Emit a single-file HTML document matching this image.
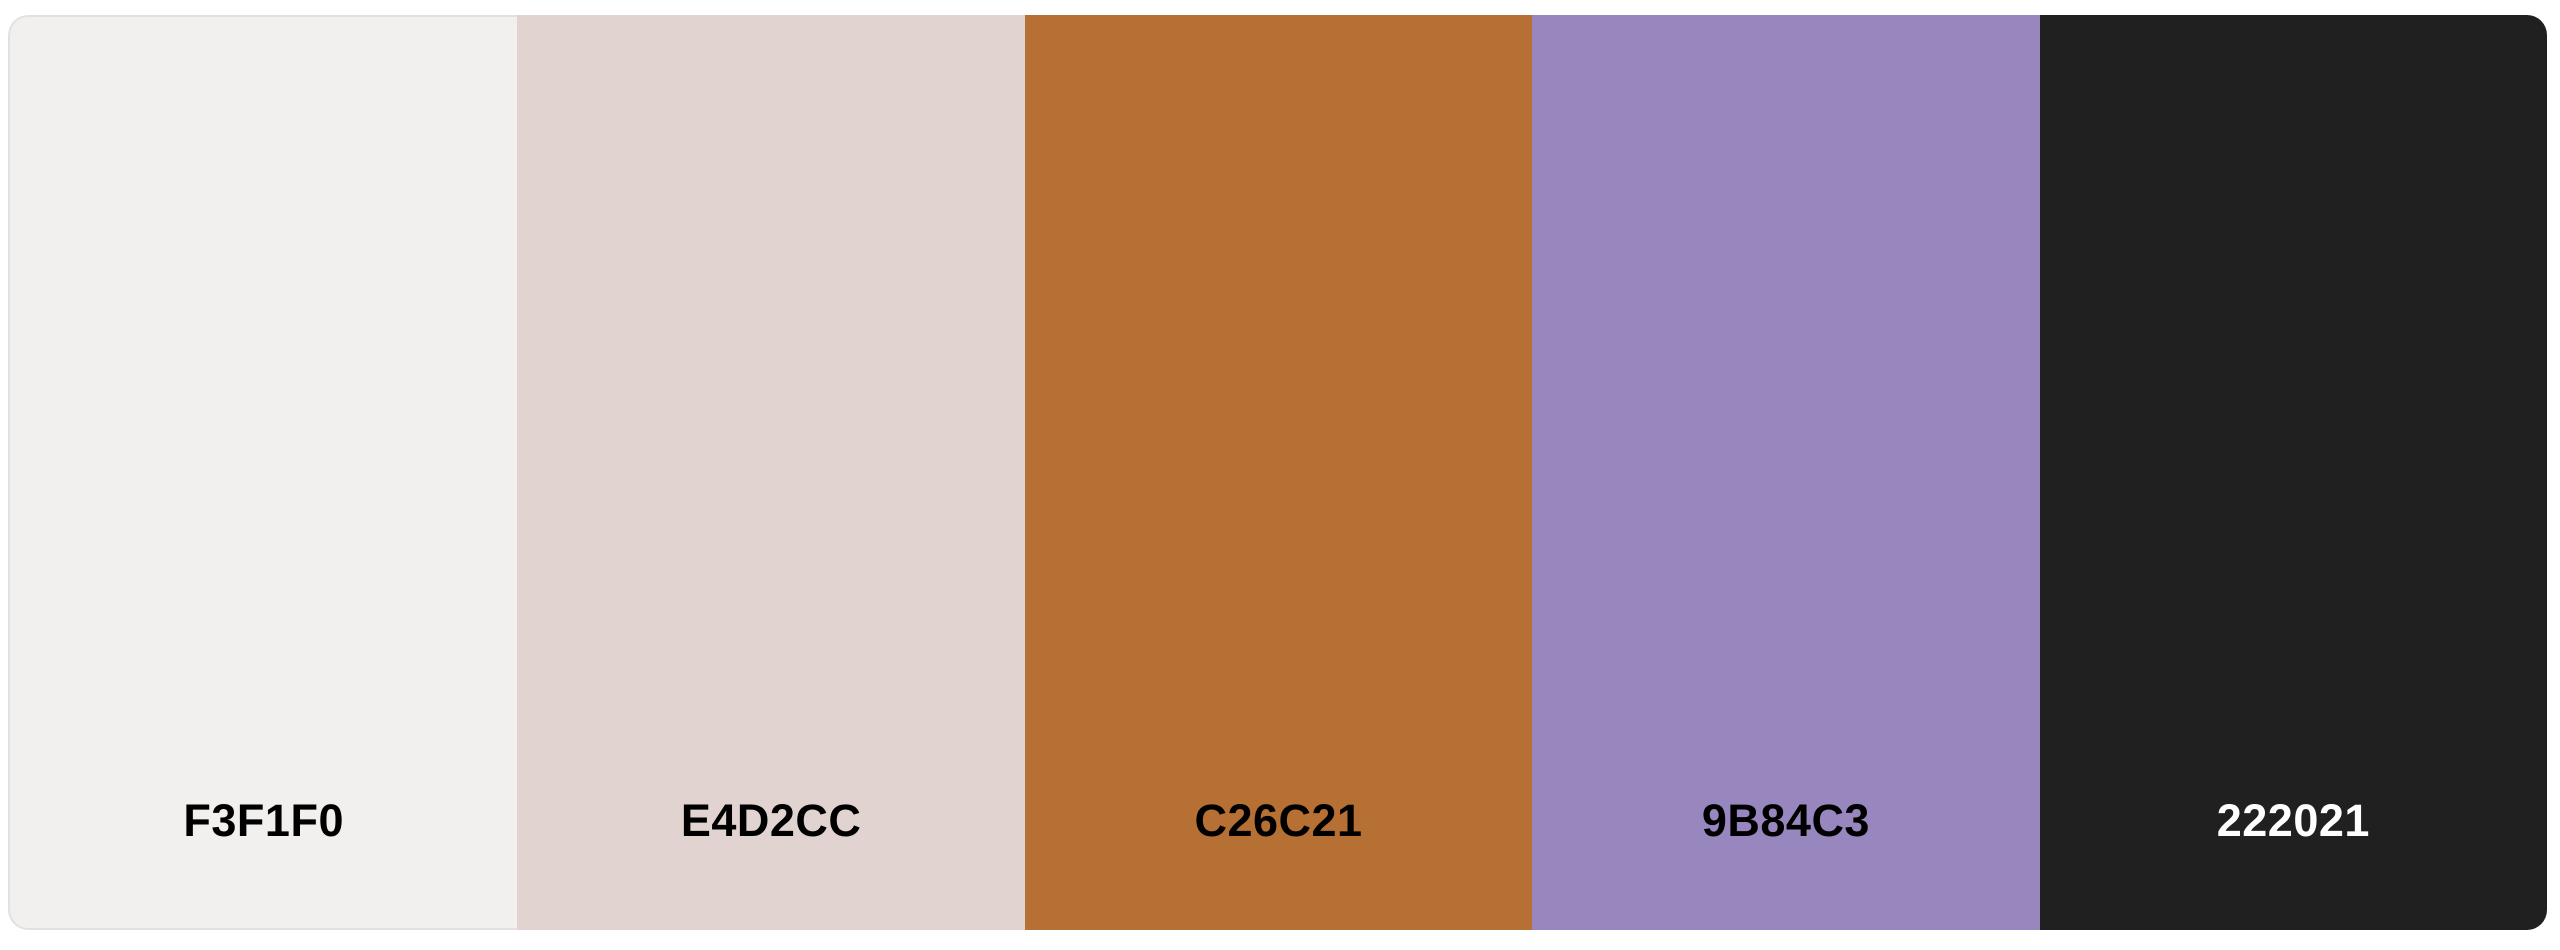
<!DOCTYPE html>
<html><head><meta charset="utf-8"><style>
html,body{margin:0;padding:0;background:#fff;width:2560px;height:950px;overflow:hidden}
#palette{position:absolute;left:8px;top:15px;width:2539px;height:915px;border-radius:20px;overflow:hidden;display:flex}
.sw{flex:1 1 0;width:0;position:relative;box-sizing:border-box}
.sw span{position:absolute;left:0;right:0;top:783px;text-align:center;font-family:"Liberation Sans",sans-serif;font-weight:bold;font-size:45px;line-height:45px;letter-spacing:0.5px}
</style></head><body>
<div id="palette">
<div class="sw" style="background:#f1f0ee;border:2px solid #e2e1df;border-right:none;border-radius:20px 0 0 20px"><span style="color:#000;top:781px">F3F1F0</span></div>
<div class="sw" style="background:#e1d3cf"><span style="color:#000">E4D2CC</span></div>
<div class="sw" style="background:#b67033"><span style="color:#000">C26C21</span></div>
<div class="sw" style="background:#9787be"><span style="color:#000">9B84C3</span></div>
<div class="sw" style="background:#212021"><span style="color:#fff">222021</span></div>
</div>
</body></html>
